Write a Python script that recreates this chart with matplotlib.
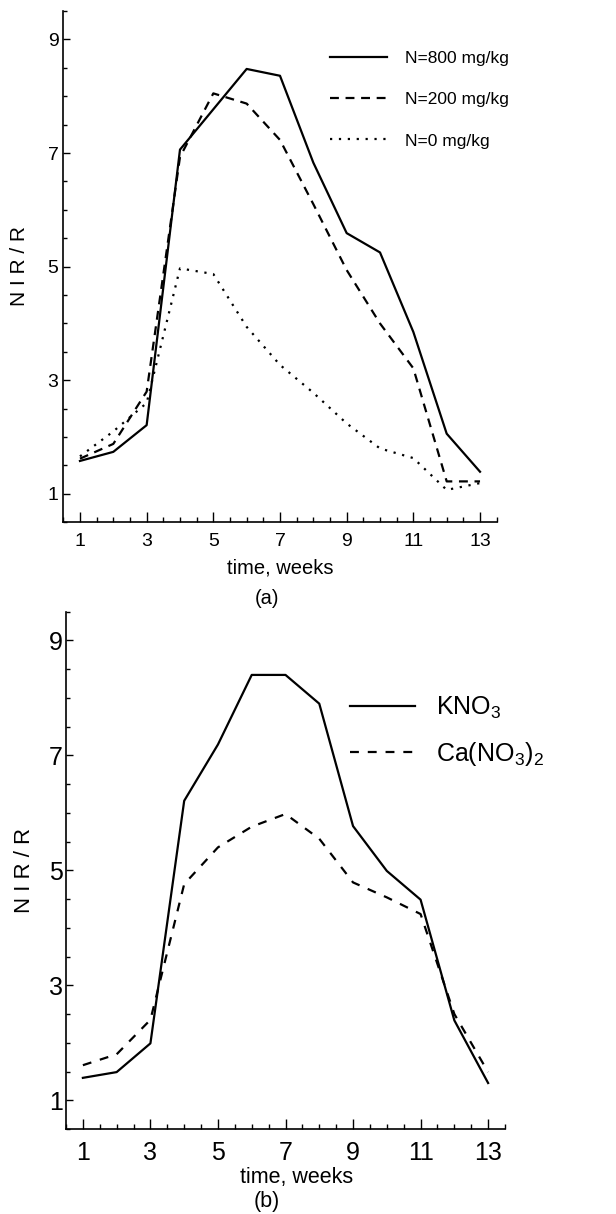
import matplotlib
matplotlib.use("Agg")
import matplotlib.pyplot as plt
from matplotlib.ticker import MultipleLocator

plt.rcParams['font.family'] = ['Liberation Sans Narrow', 'Liberation Sans', 'DejaVu Sans']
plt.rcParams['mathtext.default'] = 'regular'

weeks = list(range(1, 14))
# panel (a)
n800 = [1.58, 1.74, 2.21, 7.06, 7.77, 8.48, 8.36, 6.83, 5.59, 5.25, 3.85, 2.06, 1.39]
n200 = [1.62, 1.88, 2.80, 6.93, 8.05, 7.87, 7.23, 6.10, 4.94, 4.00, 3.21, 1.22, 1.22]
n0 = [1.66, 2.10, 2.60, 4.97, 4.87, 3.94, 3.27, 2.78, 2.24, 1.80, 1.63, 1.07, 1.19]
# panel (b)
kno3 = [1.39, 1.49, 1.99, 6.21, 7.19, 8.40, 8.40, 7.90, 5.77, 4.99, 4.49, 2.39, 1.30]
cano3 = [1.61, 1.80, 2.40, 4.76, 5.40, 5.76, 5.98, 5.55, 4.79, 4.53, 4.24, 2.50, 1.49]

labels_a = ['N=800 mg/kg', 'N=200 mg/kg', 'N=0 mg/kg']
labels_b = ['KNO$_3$', 'Ca(NO$_3$)$_2$']
xticks = [1, 3, 5, 7, 9, 11, 13]
yticks = [1, 3, 5, 7, 9]

W, H = 616, 1214
fig = plt.figure(figsize=(W / 100, H / 100), dpi=100)

def box(l, t, r, b):
    return [l / W, 1 - b / H, (r - l) / W, (b - t) / H]

ax1 = fig.add_axes(box(63.3, 11, 496.7, 522.3))
ax2 = fig.add_axes(box(66, 611.7, 505, 1129))

def style(ax, fs, xpad, ypad):
    ax.set_xlim(0.5, 13.5)
    ax.set_ylim(0.5, 9.5)
    for s in ['top', 'right']:
        ax.spines[s].set_visible(False)
    for s in ['left', 'bottom']:
        ax.spines[s].set_linewidth(1.2)
    ax.set_xticks(xticks)
    ax.set_yticks(yticks)
    ax.xaxis.set_minor_locator(MultipleLocator(0.5))
    ax.yaxis.set_minor_locator(MultipleLocator(0.5))
    ax.tick_params(axis='x', which='major', direction='in', length=7, width=1, labelsize=fs, pad=xpad)
    ax.tick_params(axis='x', which='minor', direction='in', length=3.5, width=1)
    ax.tick_params(axis='y', which='major', direction='in', length=5, width=1, labelsize=fs, pad=ypad)
    ax.tick_params(axis='y', which='minor', direction='in', length=3, width=1)

lw = 1.6
ax1.plot(weeks, n800, color='black', lw=lw, label=labels_a[0])
ax1.plot(weeks, n200, color='black', lw=lw, dashes=(4, 3), label=labels_a[1])
ax1.plot(weeks, n0, color='black', lw=lw, dashes=(1, 3), label=labels_a[2])
style(ax1, 14, 8, 3.5)
ax1.legend(loc='upper left', bbox_to_anchor=(330 / W, 1 - 51 / H), bbox_transform=fig.transFigure,
           frameon=False, fontsize=12.5, handlelength=3.3, handletextpad=1.0, labelspacing=1.5,
           borderpad=0, borderaxespad=0)

ax2.plot(weeks, kno3, color='black', lw=lw, label=labels_b[0])
ax2.plot(weeks, cano3, color='black', lw=lw, dashes=(4, 4), label=labels_b[1])
style(ax2, 18, 8.5, 2.5)
ax2.legend(loc='upper left', bbox_to_anchor=(350 / W, 1 - 695 / H), bbox_transform=fig.transFigure,
           frameon=False, fontsize=18, handlelength=2.6, handletextpad=0.85, labelspacing=0.75,
           borderpad=0, borderaxespad=0)

fig.text(20 / W, 1 - 266 / H, 'N I R / R', rotation=90, ha='center', va='center', fontsize=15)
fig.text(25 / W, 1 - 870 / H, 'N I R / R', rotation=90, ha='center', va='center', fontsize=16)
fig.text(280 / W, 1 - 568 / H, 'time, weeks', ha='center', va='center', fontsize=14.5)
fig.text(267 / W, 1 - 598 / H, '(a)', ha='center', va='center', fontsize=14.5)
fig.text(297 / W, 1 - 1177 / H, 'time, weeks', ha='center', va='center', fontsize=15.5)
fig.text(267 / W, 1 - 1202 / H, '(b)', ha='center', va='center', fontsize=15.5)

fig.savefig('out.png', dpi=100)
